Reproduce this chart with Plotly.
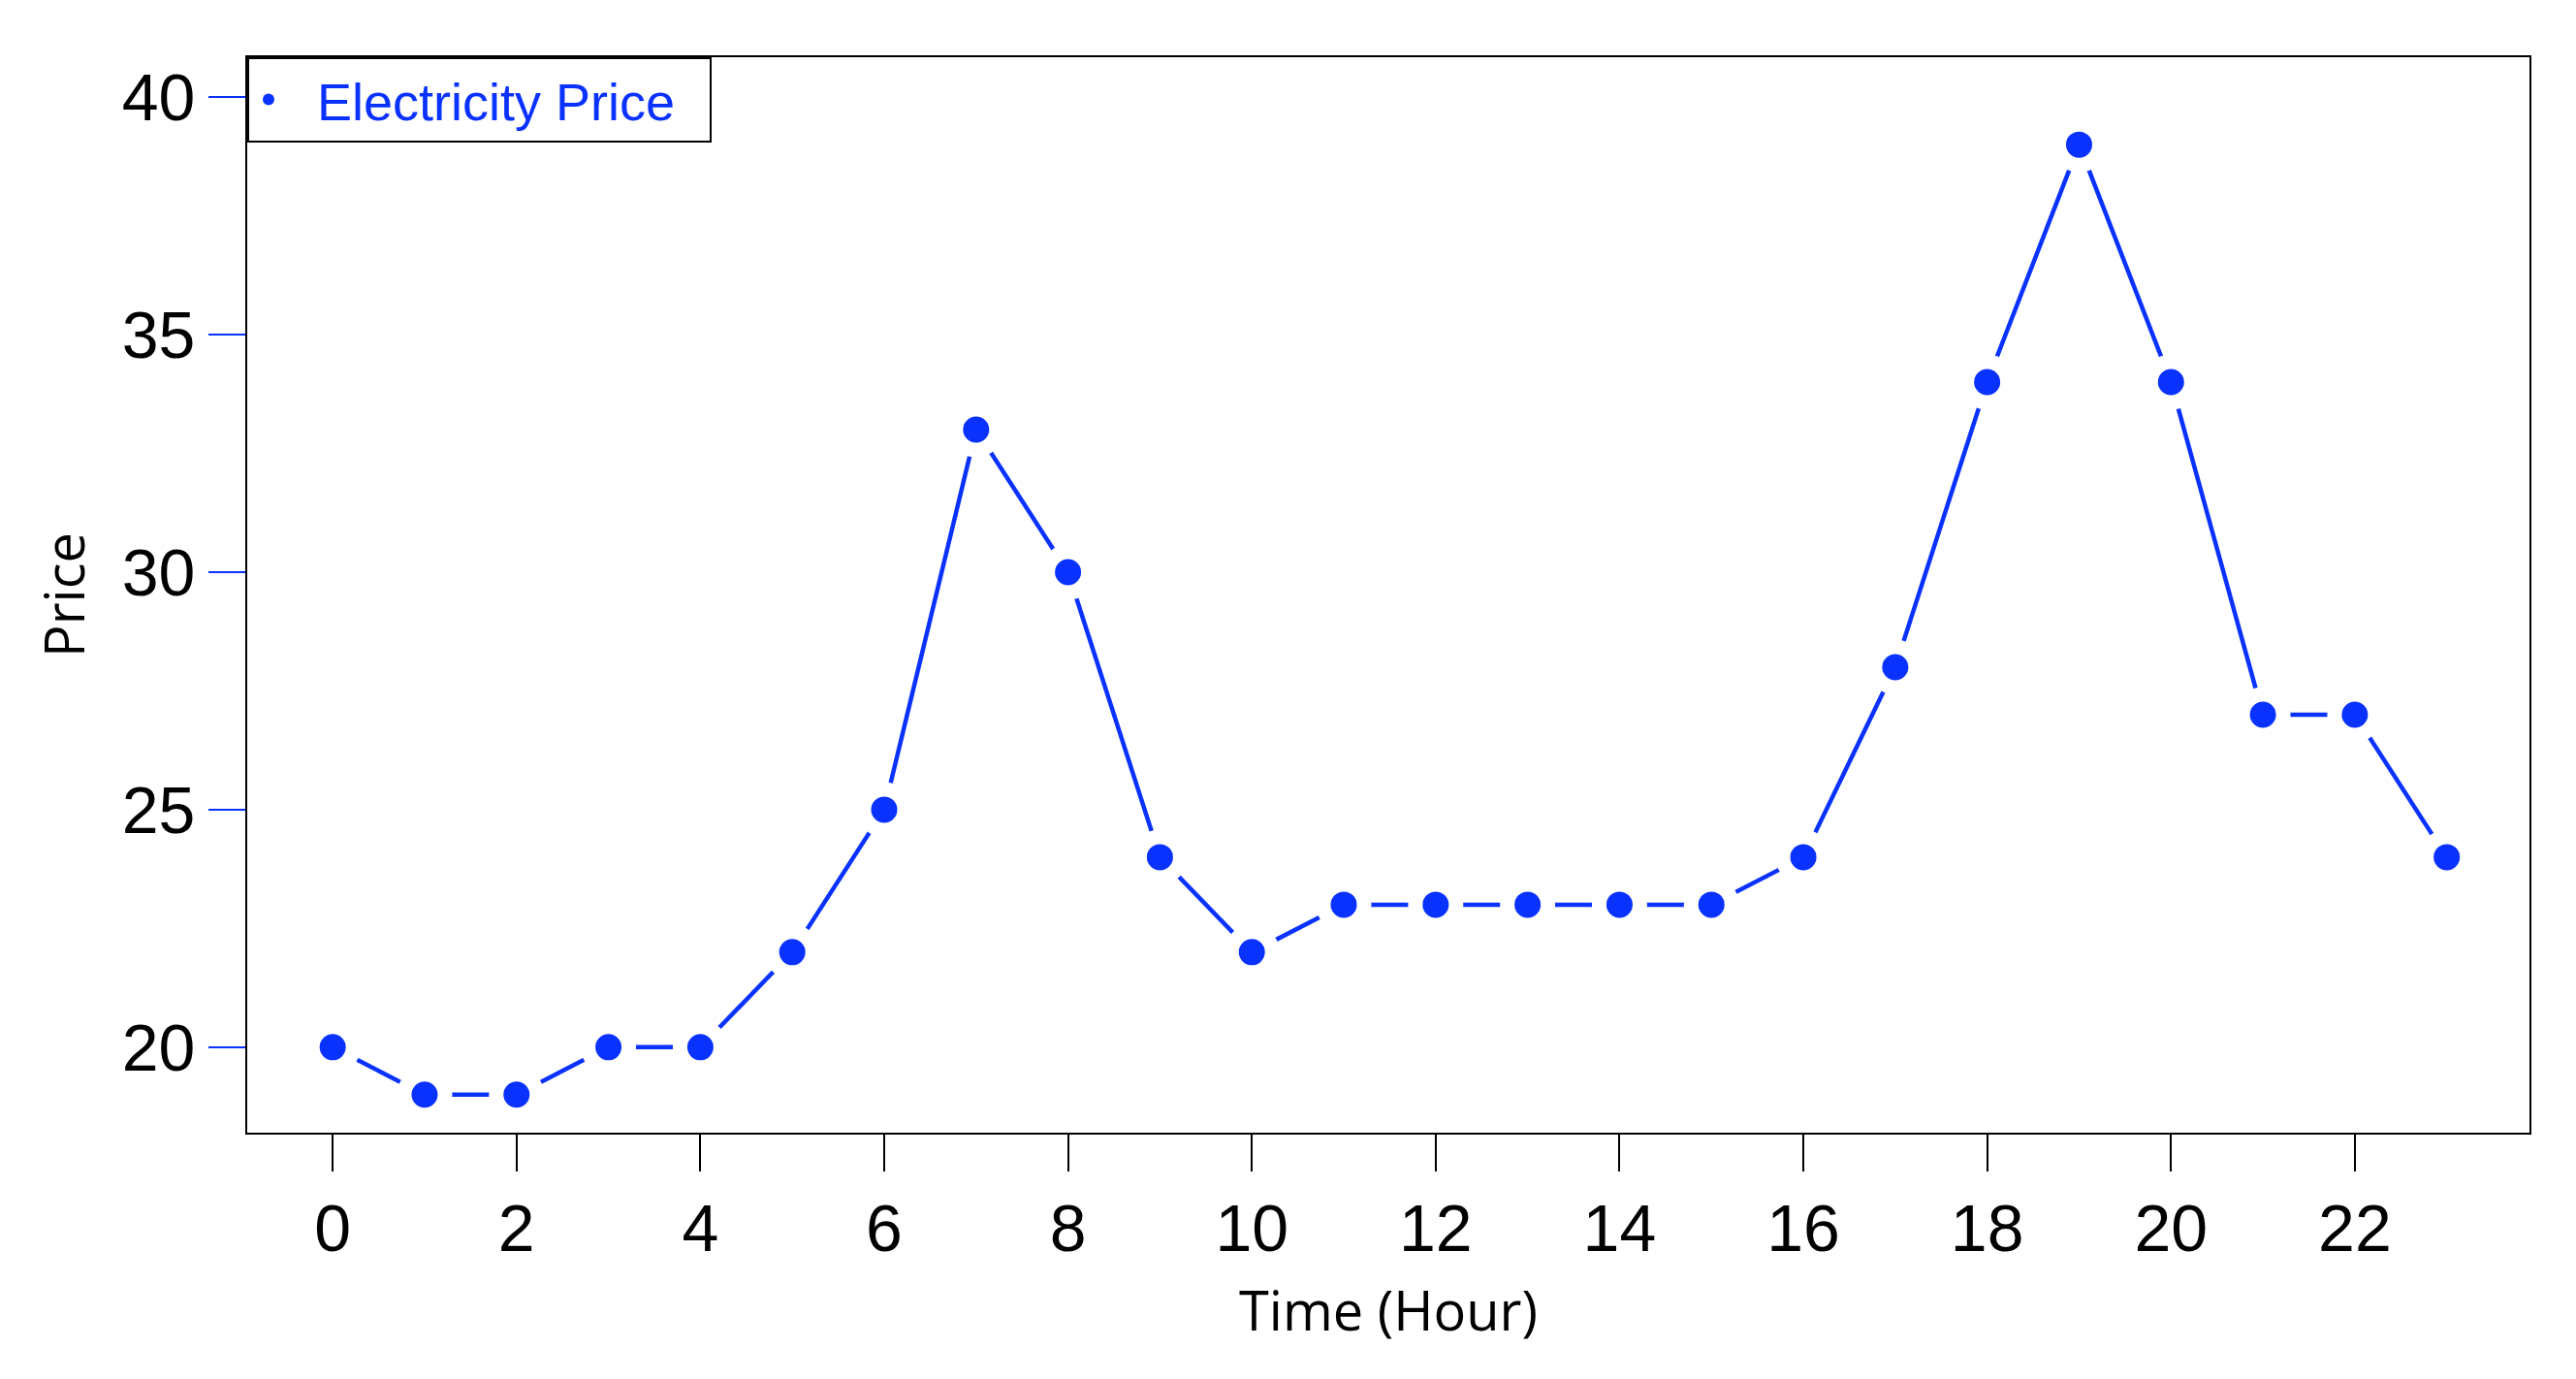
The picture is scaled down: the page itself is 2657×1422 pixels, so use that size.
import plotly.graph_objects as go

hours = list(range(24))
price = [20, 19, 19, 20, 20, 22, 25, 33, 30, 24, 22, 23, 23, 23, 23, 23, 24, 28, 34, 39, 34, 27, 27, 24]
x_ticks = list(range(0, 24, 2))
y_ticks = [20, 25, 30, 35, 40]
blue = "#0a32ff"

fig = go.Figure()
fig.add_trace(go.Scatter(
    x=hours, y=price, mode="lines+markers", showlegend=False,
    line=dict(color=blue, width=4.5),
    marker=dict(color=blue, size=42, line=dict(color="white", width=15)),
))
fig.add_trace(go.Scatter(
    x=[None], y=[None], mode="markers", name="  Electricity Price  ",
    marker=dict(color=blue, size=27),
))
fig.update_layout(
    width=2657, height=1422, plot_bgcolor="white", paper_bgcolor="white",
    margin=dict(l=247, r=56, t=51, b=262),
    font=dict(family="Liberation Sans, Arial", color="black"),
    legend=dict(x=0, y=1, xanchor="left", yanchor="top", bordercolor="black", borderwidth=2,
                font=dict(size=54, color=blue), bgcolor="white", itemsizing="constant",
                itemwidth=30, tracegroupgap=0),
    showlegend=True,
)
fig.update_xaxes(range=[-0.93, 23.9], tickvals=x_ticks, ticks="outside", ticklen=38, tickwidth=2,
                 tickcolor="black", tickfont=dict(size=68), showgrid=False, zeroline=False,
                 showline=True, linecolor="black", linewidth=2, mirror=True,
                 title=dict(text="Time (Hour)", font=dict(size=56, family="Open Sans"), standoff=30))
fig.update_yaxes(range=[18.2, 40.84], tickvals=y_ticks, ticks="outside", ticklen=38, tickwidth=2,
                 tickcolor=blue, tickfont=dict(size=68), showgrid=False, zeroline=False,
                 showline=True, linecolor="black", linewidth=2, mirror=True,
                 title=dict(text="Price", font=dict(size=56, family="Open Sans"), standoff=20))
fig.write_html("out.html")
